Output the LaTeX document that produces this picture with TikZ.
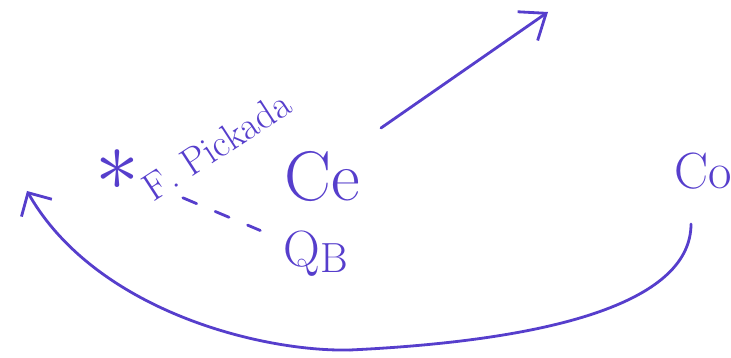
\documentclass[tikz,border=0pt]{standalone}
\usepackage{xcolor}
\usepackage{tikz}
\usetikzlibrary{arrows.meta,calc,positioning}

\definecolor{pen}{RGB}{86,62,204}

\begin{document}
\begin{tikzpicture}[
  x=0.02cm,
  y=-0.02cm,
  ink/.style={
    text=pen,
    inner sep=0pt
  },
  big/.style={
    ink,
    font=\fontsize{40}{40}\selectfont
  },
  mid/.style={
    ink,
    font=\fontsize{29}{29}\selectfont
  },
  small/.style={
    ink,
    font=\fontsize{22}{22}\selectfont
  },
  stroke/.style={pen,line width=1.6pt,line cap=round},
  arrow/.style={stroke,-{Straight Barb[length=4.5mm,width=7mm,line width=1.6pt]}}
]
\useasboundingbox (0,0) rectangle (731,358);
\node[ink,scale=5] (star) at (117,170) {$\ast$};
\node[small,rotate=33,anchor=south west] (pick) at (154,203) {F. Pickada};
\node[big] (ce) at (322,177) {Ce};
\node[mid] (qb) at (316,254) {Q\raisebox{-3pt}{\fontsize{24}{24}\selectfont B}};
\node[mid] (co) at (703,171) {Co};
\coordinate (tail) at (381,128);
\coordinate (head) at (548,12);
\coordinate (start) at (691,224);
\coordinate (low) at (350,350);
\coordinate (end) at (27,191);
\draw[stroke,dash pattern=on 8.5pt off 11.5pt,shorten <=1.43cm,shorten >=1.21cm] (star.center) -- (qb.center);
\draw[arrow] (tail) -- (head);
\draw[stroke] (start) .. controls (691,300) and (560,340) .. (low);
\draw[stroke,-{Straight Barb[length=3.5mm,width=7mm,line width=1.6pt]}] (low) .. controls (260,352) and (95,310) .. (end);
\end{tikzpicture}
\end{document}
